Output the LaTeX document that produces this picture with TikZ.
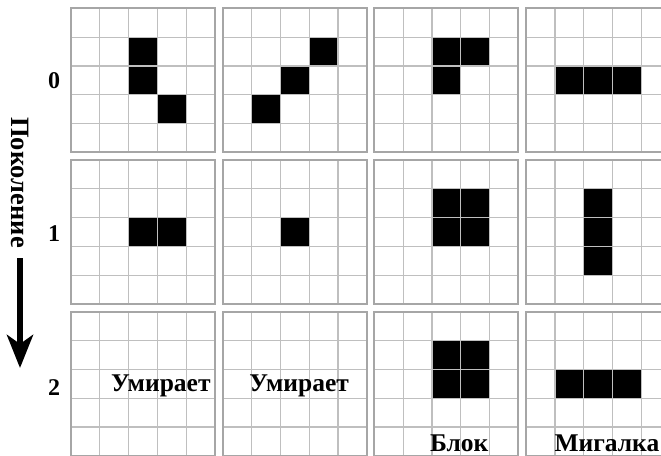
\documentclass[tikz,border=0pt]{standalone}
\usepackage{fontspec}
\setmainfont{Liberation Serif}
\usetikzlibrary{arrows.meta}
\begin{document}
\begin{tikzpicture}[x=1pt,y=-1pt,
  lbl/.style={font=\fontsize{24}{24}\selectfont\bfseries, inner sep=0pt},
  word/.style={font=\fontsize{25.5}{25.5}\selectfont\bfseries, inner sep=0pt},
  innerline/.style={draw=gray!50, line width=1.2pt},
  frame/.style={draw=gray!70, line width=2pt},
  live/.style={fill=black},
  genarrow/.style={line width=6pt, -{Stealth[length=33pt,width=26pt,inset=9pt]}}]
\useasboundingbox (0,0) rectangle (661,455);
\clip (0,0) rectangle (661,455);
\def\P{151.7}\def\C{28.8}
% live cells: panel column / panel row / cell row / cell column
\foreach \i/\j/\r/\c in {
  0/0/1/2, 0/0/2/2, 0/0/3/3,
  1/0/1/3, 1/0/2/2, 1/0/3/1,
  2/0/1/2, 2/0/1/3, 2/0/2/2,
  3/0/2/1, 3/0/2/2, 3/0/2/3,
  0/1/2/2, 0/1/2/3,
  1/1/2/2,
  2/1/1/2, 2/1/1/3, 2/1/2/2, 2/1/2/3,
  3/1/1/2, 3/1/2/2, 3/1/3/2,
  2/2/1/2, 2/2/1/3, 2/2/2/2, 2/2/2/3,
  3/2/2/1, 3/2/2/2, 3/2/2/3}
  \fill[live] ({71+\P*\i+\C*\c},{8.3+\P*\j+\C*\r}) rectangle ++(\C,\C);
% grids
\foreach \i in {0,...,3} {
  \foreach \j in {0,1,2} {
    \begin{scope}[shift={({71+\P*\i},{8.3+\P*\j})}]
      \foreach \k in {1,...,4} {
        \draw[innerline] ({\C*\k},0) -- ({\C*\k},144);
        \draw[innerline] (0,{\C*\k}) -- (144,{\C*\k});
      }
      \draw[frame] (0,0) rectangle (144,144);
    \end{scope}
  }
}
% generation labels
\node[lbl, anchor=base] (g0) at (54,88.3) {0};
\node[lbl, anchor=base] (g1) at (54,241.7) {1};
\node[lbl, anchor=base] (g2) at (54,395) {2};
\node[word, font=\fontsize{26.5}{26.5}\selectfont\bfseries, rotate=-90] (gen) at (20,182.5) {Поколение};
\coordinate (arrowstart) at (20,258);
\coordinate (arrowend) at (20,368);
\draw[genarrow] (arrowstart) -- (arrowend);
% outcome labels
\node[word, anchor=base] (die1) at (160.8,391.7) {Умирает};
\node[word, anchor=base] (die2) at (299.2,391.7) {Умирает};
\node[word, anchor=base] (block) at (459.2,451) {Блок};
\node[word, anchor=base east] (blinker) at (659.5,451) {Мигалка};
\end{tikzpicture}
\end{document}
